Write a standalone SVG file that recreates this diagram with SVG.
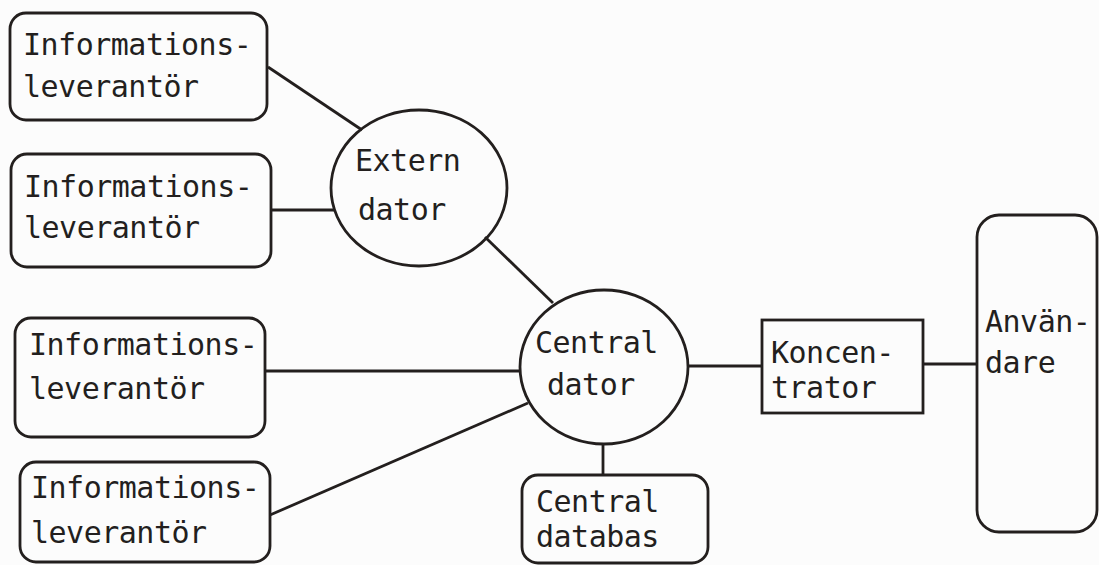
<svg xmlns="http://www.w3.org/2000/svg" width="1099" height="565" viewBox="0 0 1099 565">
<style>
.s{fill:none;stroke:#231f1e;stroke-width:2.8}
.t{font-family:"DejaVu Sans Mono","Liberation Mono",monospace;font-size:30px;letter-spacing:-0.5px;fill:#231f1e}
.c{stroke:#231f1e;stroke-width:2.8;fill:none}
</style>
<rect width="1099" height="565" fill="#fcfcfc"/>
<g id="connectors">
<line class="c" x1="268" y1="67" x2="362" y2="130"/>
<line class="c" x1="271" y1="210" x2="334" y2="210"/>
<line class="c" x1="485" y1="237" x2="553" y2="303"/>
<line class="c" x1="265" y1="371" x2="521" y2="371"/>
<line class="c" x1="270" y1="515" x2="528" y2="403"/>
<line class="c" x1="603" y1="444" x2="603" y2="475"/>
<line class="c" x1="688" y1="366" x2="762" y2="366"/>
<line class="c" x1="923" y1="364" x2="977" y2="364"/>
</g>
<g id="info1">
<rect class="s" x="10" y="13" width="257" height="107" rx="16"/>
<text class="t" x="23" y="55">Informations-</text>
<text class="t" x="23" y="97">leverantör</text>
</g>
<g id="info2">
<rect class="s" x="11" y="154" width="260" height="113" rx="16"/>
<text class="t" x="24" y="197">Informations-</text>
<text class="t" x="24" y="238">leverantör</text>
</g>
<g id="info3">
<rect class="s" x="15" y="318" width="250" height="119" rx="16"/>
<text class="t" x="29" y="355">Informations-</text>
<text class="t" x="29" y="399">leverantör</text>
</g>
<g id="info4">
<rect class="s" x="20" y="462" width="250" height="100" rx="16"/>
<text class="t" x="31" y="498">Informations-</text>
<text class="t" x="31" y="543">leverantör</text>
</g>
<g id="extern">
<ellipse class="s" cx="419" cy="188" rx="88" ry="78"/>
<text class="t" x="355" y="171">Extern</text>
<text class="t" x="358" y="220">dator</text>
</g>
<g id="central">
<ellipse class="s" cx="604" cy="367" rx="84" ry="77"/>
<text class="t" x="535" y="353">Central</text>
<text class="t" x="547" y="395">dator</text>
</g>
<g id="databas">
<rect class="s" x="522" y="475" width="186" height="88" rx="16"/>
<text class="t" x="536" y="512">Central</text>
<text class="t" x="536" y="547">databas</text>
</g>
<g id="koncentrator">
<rect class="s" x="762" y="320" width="161" height="93"/>
<text class="t" x="771" y="363">Koncen-</text>
<text class="t" x="771" y="398">trator</text>
</g>
<g id="anvandare">
<rect class="s" x="977" y="215" width="120" height="317" rx="22"/>
<text class="t" x="985" y="332">Använ-</text>
<text class="t" x="985" y="373">dare</text>
</g>
</svg>
